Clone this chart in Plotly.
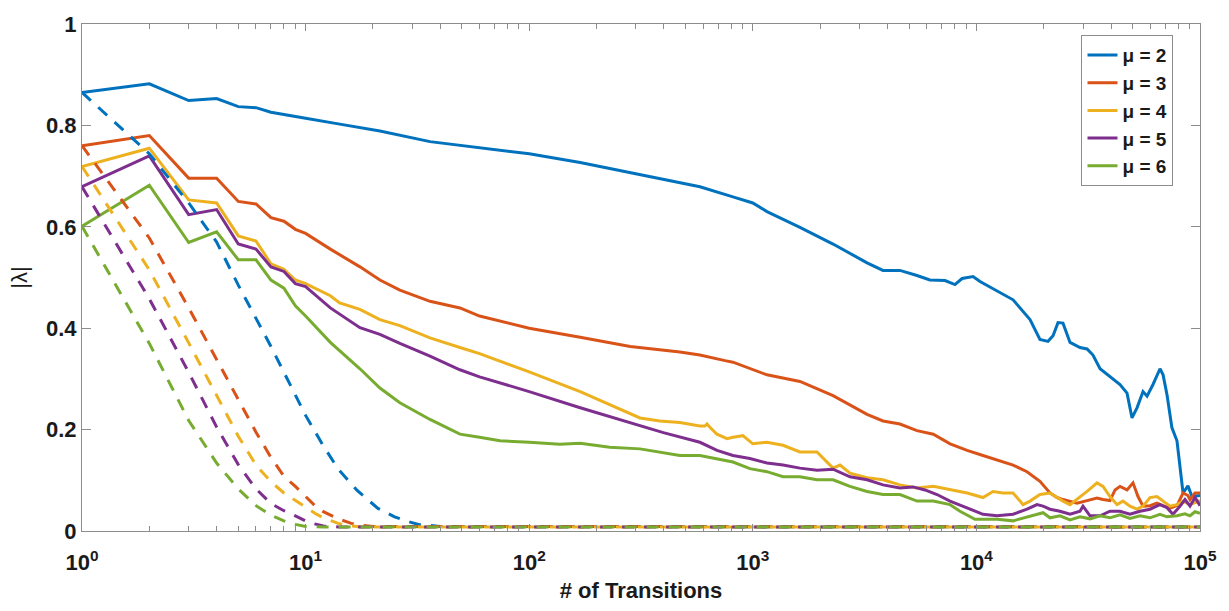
import plotly.graph_objects as go

# ---------------- data ----------------
labels = ["μ = 2", "μ = 3", "μ = 4", "μ = 5", "μ = 6"]
colors = ["#0072BD", "#D95319", "#EDB120", "#7E2F8E", "#77AC30"]

# solid lines (|lambda| vs # of transitions)
x_mu2 = [1, 2, 3, 4, 5, 6, 7, 8, 10, 14, 21.5, 36, 60, 100, 169, 283, 472, 580, 815, 1000, 1157, 1625,
         2285, 3243, 3822, 4550, 5423, 6197, 7240, 8020, 8630, 9660, 10380, 12360, 14590, 17370, 19240,
         20900, 22020, 23170, 24390, 26230, 29060, 31250, 33210, 35730, 39580, 43870, 47180, 49650, 52270,
         55620, 57960, 61630, 66240, 68370, 71170, 74850, 78890, 81450, 83980, 88330, 92060, 100000]
y_mu2 = [0.865, 0.882, 0.849, 0.853, 0.837, 0.835, 0.826, 0.822, 0.814, 0.803, 0.789, 0.768, 0.756, 0.744,
         0.727, 0.707, 0.688, 0.679, 0.659, 0.647, 0.630, 0.599, 0.566, 0.529, 0.514, 0.514, 0.504, 0.495,
         0.494, 0.486, 0.498, 0.502, 0.492, 0.473, 0.456, 0.417, 0.378, 0.374, 0.385, 0.411, 0.410, 0.372,
         0.362, 0.359, 0.347, 0.320, 0.304, 0.289, 0.272, 0.223, 0.243, 0.275, 0.266, 0.289, 0.320, 0.308,
         0.269, 0.204, 0.178, 0.127, 0.075, 0.089, 0.068, 0.070]

x_mu3 = [1, 2, 3, 4, 5, 6, 7, 8, 9, 10, 12.9, 17.5, 21.5, 26.4, 36, 49, 60, 100, 169, 283, 472, 580, 751,
         815, 1157, 1625, 2285, 3243, 3822, 4550, 5423, 6416, 7630, 9090, 10700, 12360, 14590, 16840, 19240,
         21330, 22940, 24390, 26230, 28180, 31250, 34600, 36850, 39580, 41690, 43870, 47180, 50160, 52810,
         55620, 59760, 64210, 68370, 73400, 78890, 83980, 88330, 90210, 94980, 100000]
y_mu3 = [0.760, 0.780, 0.696, 0.696, 0.650, 0.645, 0.618, 0.611, 0.595, 0.587, 0.556, 0.521, 0.495, 0.475,
         0.453, 0.440, 0.424, 0.400, 0.382, 0.364, 0.353, 0.347, 0.336, 0.333, 0.308, 0.295, 0.267, 0.230,
         0.217, 0.211, 0.198, 0.191, 0.172, 0.159, 0.149, 0.140, 0.130, 0.117, 0.098, 0.075, 0.066, 0.062,
         0.058, 0.055, 0.060, 0.065, 0.062, 0.060, 0.081, 0.088, 0.081, 0.095, 0.068, 0.049, 0.050, 0.055,
         0.050, 0.045, 0.050, 0.075, 0.070, 0.062, 0.075, 0.075]

x_mu4 = [1, 2, 3, 4, 5, 6, 7, 8, 9, 10, 12.9, 14.2, 17.5, 21.5, 26.4, 36, 49, 60, 68.9, 100, 169, 229, 313,
         384, 472, 580, 611, 624, 644, 691, 751, 767, 815, 903, 1000, 1157, 1365, 1625, 1937, 2147, 2285,
         2455, 2720, 3243, 3822, 4550, 5423, 6416, 7630, 9090, 10700, 11865, 13150, 14590, 15670, 16160,
         17370, 19240, 21340, 22940, 24390, 26230, 28180, 31250, 33210, 34630, 36830, 39580, 42550, 45240,
         48630, 52270, 55620, 59760, 64210, 68370, 73400, 78890, 83980, 90210, 100000]
y_mu4 = [0.719, 0.755, 0.653, 0.647, 0.582, 0.572, 0.527, 0.516, 0.495, 0.488, 0.464, 0.450, 0.437, 0.417,
         0.405, 0.381, 0.362, 0.350, 0.340, 0.314, 0.275, 0.250, 0.223, 0.217, 0.214, 0.207, 0.207, 0.211,
         0.204, 0.191, 0.185, 0.182, 0.185, 0.188, 0.172, 0.175, 0.169, 0.156, 0.156, 0.136, 0.124, 0.130,
         0.114, 0.105, 0.101, 0.091, 0.085, 0.088, 0.081, 0.075, 0.066, 0.078, 0.075, 0.075, 0.059, 0.052,
         0.059, 0.072, 0.075, 0.066, 0.059, 0.052, 0.062, 0.078, 0.088, 0.095, 0.088, 0.068, 0.052, 0.059,
         0.049, 0.043, 0.049, 0.066, 0.068, 0.059, 0.049, 0.052, 0.059, 0.052, 0.060]

x_mu5 = [1, 2, 3, 4, 5, 6, 7, 8, 9, 10, 12.9, 17.5, 21.5, 26.4, 36, 49, 60, 100, 169, 283, 398, 580, 692,
         815, 971, 1157, 1365, 1625, 1937, 2285, 2720, 3243, 3822, 4550, 5206, 5890, 6664, 7620, 9077,
         10703, 12365, 14590, 16840, 18660, 19860, 21340, 23650, 26230, 29060, 29970, 32220, 35730, 39580,
         43870, 48630, 53900, 59760, 66240, 71170, 75700, 81450, 85680, 90210, 94980, 100000]
y_mu5 = [0.679, 0.740, 0.624, 0.634, 0.566, 0.556, 0.521, 0.512, 0.488, 0.482, 0.440, 0.401, 0.388, 0.370,
         0.345, 0.318, 0.304, 0.275, 0.243, 0.214, 0.194, 0.175, 0.159, 0.149, 0.143, 0.134, 0.130, 0.124,
         0.120, 0.122, 0.107, 0.101, 0.091, 0.085, 0.087, 0.081, 0.072, 0.059, 0.046, 0.033, 0.030, 0.033,
         0.043, 0.052, 0.049, 0.043, 0.039, 0.033, 0.039, 0.049, 0.030, 0.030, 0.039, 0.039, 0.033, 0.039,
         0.043, 0.052, 0.046, 0.033, 0.049, 0.062, 0.049, 0.066, 0.050]

x_mu6 = [1, 2, 3, 4, 5, 6, 7, 8, 9, 10, 12.9, 17.5, 21.5, 26.4, 36, 49, 60, 74, 100, 137, 169, 229, 313,
         472, 580, 691, 815, 971, 1157, 1365, 1625, 1937, 2285, 2720, 3243, 3822, 4550, 5423, 6416, 7620,
         8446, 9855, 12365, 14590, 16840, 19860, 21340, 23650, 26230, 29060, 32220, 35730, 39580, 43870,
         48630, 53900, 59760, 66240, 71170, 78890, 85680, 90210, 94980, 100000]
y_mu6 = [0.601, 0.682, 0.569, 0.590, 0.535, 0.535, 0.495, 0.479, 0.444, 0.424, 0.372, 0.320, 0.282, 0.253,
         0.220, 0.191, 0.185, 0.178, 0.175, 0.171, 0.173, 0.165, 0.162, 0.149, 0.149, 0.143, 0.136, 0.123,
         0.117, 0.107, 0.107, 0.101, 0.101, 0.088, 0.078, 0.072, 0.072, 0.059, 0.059, 0.052, 0.039, 0.023,
         0.023, 0.020, 0.028, 0.036, 0.026, 0.030, 0.022, 0.028, 0.024, 0.030, 0.026, 0.032, 0.025, 0.030,
         0.026, 0.033, 0.028, 0.030, 0.034, 0.030, 0.038, 0.035]

# dashed lines
xd_mu2 = [1, 2, 3, 4, 5, 6, 7, 8, 9, 10, 12, 14, 17, 21, 25, 28, 32, 40, 100000]
yd_mu2 = [0.865, 0.744, 0.647, 0.570, 0.485, 0.420, 0.364, 0.313, 0.268, 0.228, 0.168, 0.122, 0.080,
          0.045, 0.028, 0.020, 0.013, 0.009, 0.008]
xd_mu3 = [1, 2, 3, 4, 5, 6, 7, 8, 9, 10, 11, 12, 14, 16, 18, 20, 100000]
yd_mu3 = [0.760, 0.578, 0.440, 0.337, 0.258, 0.195, 0.145, 0.108, 0.088, 0.068, 0.050, 0.038, 0.024,
          0.015, 0.011, 0.009, 0.008]
xd_mu4 = [1, 2, 3, 4, 5, 6, 7, 8, 9, 10, 11, 12, 14, 16, 18, 100000]
yd_mu4 = [0.719, 0.515, 0.371, 0.268, 0.187, 0.130, 0.097, 0.075, 0.061, 0.047, 0.035, 0.026, 0.015,
          0.010, 0.008, 0.008]
xd_mu5 = [1, 2, 3, 4, 5, 6, 7, 8, 9, 10, 11, 12, 14, 100000]
yd_mu5 = [0.679, 0.458, 0.313, 0.205, 0.131, 0.083, 0.054, 0.040, 0.030, 0.020, 0.014, 0.010, 0.008, 0.008]
xd_mu6 = [1, 2, 3, 4, 5, 6, 7, 8, 9, 10, 12, 100000]
yd_mu6 = [0.601, 0.370, 0.218, 0.134, 0.083, 0.050, 0.031, 0.020, 0.013, 0.009, 0.008, 0.008]

x_tick_vals = [1, 10, 100, 1000, 10000, 100000]
x_tick_text = ["10<sup>0</sup>", "10<sup>1</sup>", "10<sup>2</sup>", "10<sup>3</sup>", "10<sup>4</sup>", "10<sup>5</sup>"]
y_tick_vals = [0, 0.2, 0.4, 0.6, 0.8, 1]
y_tick_text = ["0", "0.2", "0.4", "0.6", "0.8", "1"]

solid_x = [x_mu2, x_mu3, x_mu4, x_mu5, x_mu6]
solid_y = [y_mu2, y_mu3, y_mu4, y_mu5, y_mu6]
dash_x = [xd_mu2, xd_mu3, xd_mu4, xd_mu5, xd_mu6]
dash_y = [yd_mu2, yd_mu3, yd_mu4, yd_mu5, yd_mu6]

# ---------------- figure ----------------
fig = go.Figure()
for lab, c, xs, ys in zip(labels, colors, solid_x, solid_y):
    fig.add_trace(go.Scatter(x=xs, y=ys, mode="lines", name=lab,
                             line=dict(color=c, width=3), showlegend=True))
for lab, c, xs, ys in zip(labels, colors, dash_x, dash_y):
    fig.add_trace(go.Scatter(x=xs, y=ys, mode="lines", name=lab,
                             line=dict(color=c, width=3, dash="12px,10px"), showlegend=False))

minor_vals = [m * 10 ** k for k in range(5) for m in range(2, 10)]
axis_col = "#8c8c8c"
FONT = "Liberation Sans, Arial, sans-serif"
tick_font = dict(family=FONT, size=22, color="#1a1a1a", weight="bold")

fig.update_layout(
    width=1229, height=611,
    margin=dict(l=82, r=29, t=16, b=79),
    plot_bgcolor="white", paper_bgcolor="white",
    showlegend=True,
    legend=dict(x=0.894, y=0.978, xanchor="left", yanchor="top",
                bgcolor="white", bordercolor=axis_col, borderwidth=1,
                font=dict(family=FONT, size=19, color="#1a1a1a", weight="bold"),
                tracegroupgap=0, itemwidth=30),
    xaxis=dict(type="log", range=[0, 5], tickvals=x_tick_vals, ticktext=x_tick_text,
               ticks="inside", ticklen=7, tickcolor=axis_col, tickwidth=1,
               showline=True, linecolor=axis_col, linewidth=1, mirror="ticks",
               showgrid=False, zeroline=False, ticklabelstandoff=12,
               minor=dict(tickvals=minor_vals, ticks="inside", ticklen=5, tickcolor=axis_col, showgrid=False),
               tickfont=tick_font,
               title=dict(text="# of Transitions", standoff=8,
                          font=dict(family=FONT, size=22, color="#1a1a1a", weight="bold"))),
    yaxis=dict(range=[0, 1], tickvals=y_tick_vals, ticktext=y_tick_text,
               ticks="inside", ticklen=9, tickcolor=axis_col, tickwidth=1,
               showline=True, linecolor=axis_col, linewidth=1, mirror="ticks",
               showgrid=False, zeroline=False,
               tickfont=tick_font,
               title=dict(text="|λ|", standoff=12,
                          font=dict(family=FONT, size=22, color="#1a1a1a"))),
)

fig.write_html("out.html")
